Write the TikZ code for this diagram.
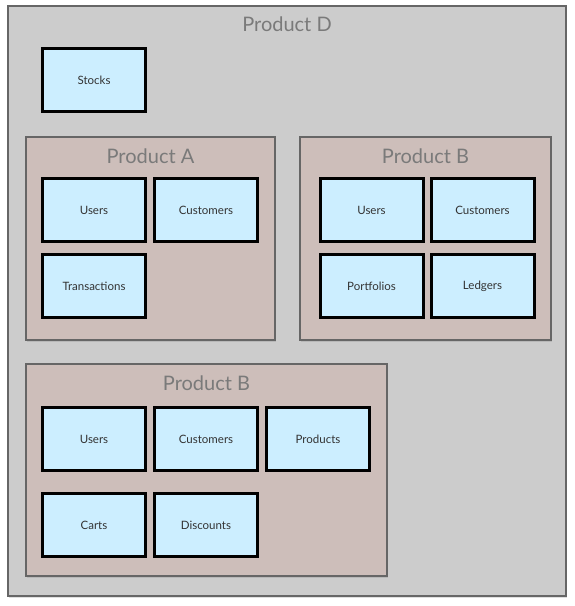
\documentclass[tikz,border=0pt]{standalone}
\usepackage{fontspec}
\setmainfont{Lato}
\usetikzlibrary{positioning,shadows}

\definecolor{outergray}{HTML}{CCCCCC}
\definecolor{productfill}{HTML}{CDBEBA}
\definecolor{framegray}{HTML}{666666}
\definecolor{titlegray}{HTML}{7A7A7A}
\definecolor{tablefill}{HTML}{CCEEFF}
\definecolor{tabletext}{HTML}{333333}

\tikzset{
  product/.style={draw=framegray,line width=2pt,inner sep=0pt,
    drop shadow={shadow xshift=1pt,shadow yshift=-1.5pt,opacity=.25}},
  title/.style={text=titlegray,font=\fontsize{20}{24}\selectfont},
  table/.style={draw=black,fill=tablefill,line width=3pt,text=tabletext,
    minimum width=103pt,minimum height=63pt,inner sep=0pt,
    font=\fontsize{11.5}{14}\selectfont,
    drop shadow={shadow xshift=1pt,shadow yshift=-1.5pt,opacity=.3}}
}

\begin{document}
\begin{tikzpicture}[x=1pt,y=-1pt,node distance=112pt,on grid]
    \useasboundingbox[fill=white] (0,0) rectangle (574,606);

    % containers
    \node[product,fill=outergray,minimum width=558pt,minimum height=590pt]  (pd)  at (287,301)   {};
    \node[product,fill=productfill,minimum width=249pt,minimum height=203pt] (pa)  at (150.5,238.5) {};
    \node[product,fill=productfill,minimum width=251pt,minimum height=203pt] (pb)  at (425.5,238.5) {};
    \node[product,fill=productfill,minimum width=361pt,minimum height=212pt] (pb2) at (206.5,470)   {};

    \node[title] (tpd)  [below=8pt of pd.north]  {Product D};
    \node[title] (tpa)  [below=9pt of pa.north]  {Product A};
    \node[title] (tpb)  [below=9pt of pb.north]  {Product B};
    \node[title] (tpb2) [below=9pt of pb2.north] {Product B};

    % product D
    \node[table] (stocks) at (94,80) {Stocks};

    % product A
    \node[table] (aUsers)        at (94,210)               {Users};
    \node[table] (aCustomers)    [right=of aUsers]         {Customers};
    \node[table] (aTransactions) [below=76pt of aUsers]    {Transactions};

    % product B (right)
    \node[table] (bUsers)      at (371.5,210)              {Users};
    \node[table] (bCustomers)  [right=111pt of bUsers]     {Customers};
    \node[table] (bPortfolios) [below=76pt of bUsers]      {Portfolios};
    \node[table] (bLedgers)    [below=76pt of bCustomers]  {Ledgers};

    % product B (bottom)
    \node[table] (cUsers)     at (94,439)                  {Users};
    \node[table] (cCustomers) [right=of cUsers]            {Customers};
    \node[table] (cProducts)  [right=of cCustomers]        {Products};
    \node[table] (cCarts)     [below=86pt of cUsers]       {Carts};
    \node[table] (cDiscounts) [below=86pt of cCustomers]   {Discounts};

\end{tikzpicture}
\end{document}
